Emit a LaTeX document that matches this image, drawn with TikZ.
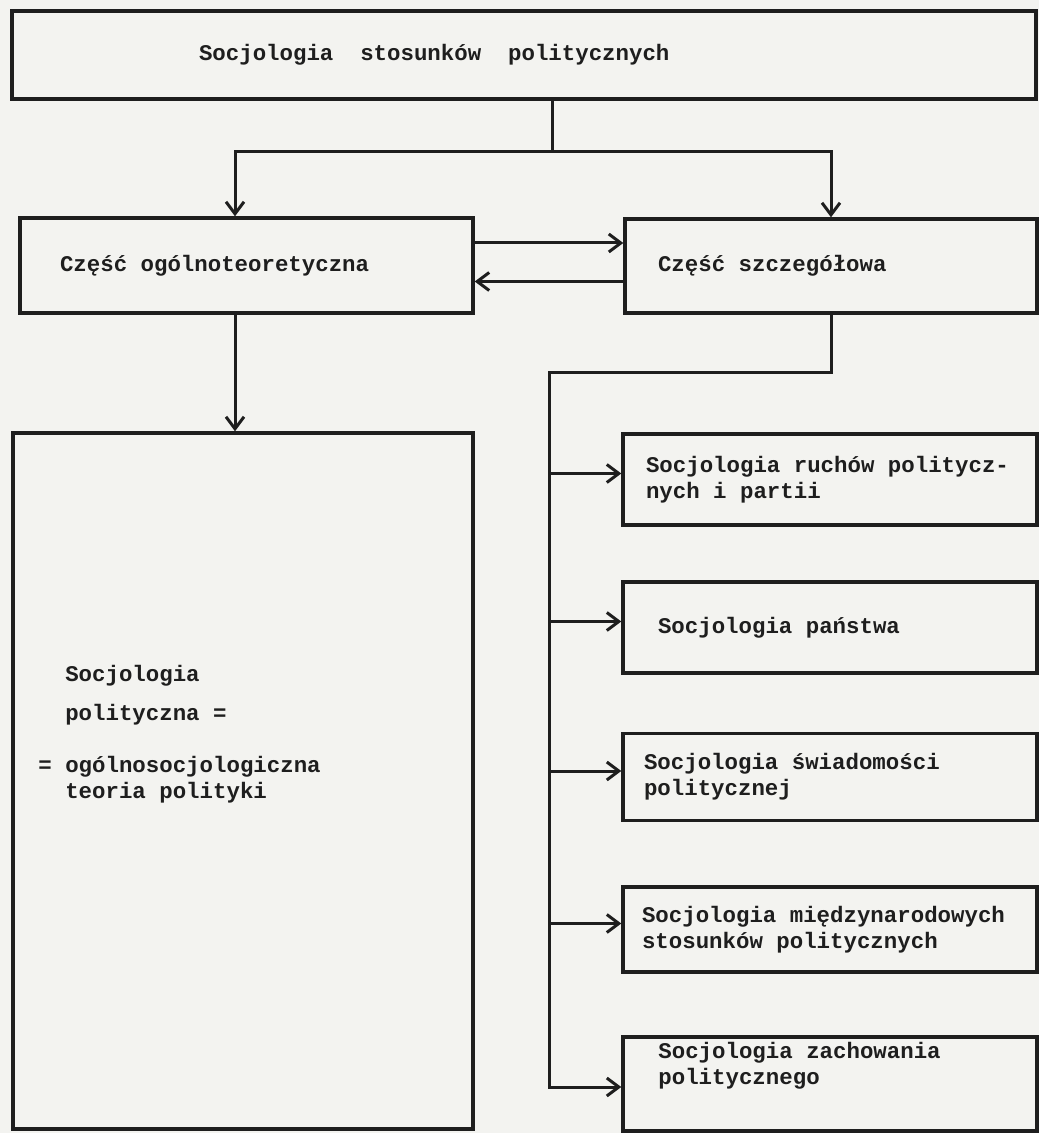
\documentclass[tikz,border=0pt]{standalone}
\usepackage{fontspec}
\setmonofont{Liberation Mono}
\usetikzlibrary{arrows.meta, positioning, calc}
\definecolor{paper}{HTML}{F3F3F0}
\definecolor{ink}{HTML}{1E1E1E}
\DeclareRobustCommand\typewr{\ttfamily\bfseries\fontsize{11.2}{13}\selectfont\spaceskip=0.6em\relax}
\tikzset{
  txt/.style={align=left, text=ink, inner sep=0pt, font=\typewr,
    execute at begin node={\spaceskip=0.6em\relax}},
  box/.style={txt, rectangle, draw=ink, line width=1.7pt, inner ysep=0pt},
  boxdim/.style n args={4}{minimum width=#1, minimum height=#2, inner xsep=#3, text width=#4},
  conn/.style={draw=ink, line width=1.5pt},
  arrow/.style={conn, -{Straight Barb[length=6pt, width=9pt]}},
}

\begin{document}
\begin{tikzpicture}[x=0.5pt, y=-0.5pt]
\fill[paper] (0,0) rectangle (1039,1133);
\useasboundingbox (0,0) rectangle (1039,1133);

% upper part
\node[box, boxdim={512pt}{44pt}{93.5pt}{325pt}] (soc) at (524,55) {Socjologia\ \ stosunków\ \ politycznych};
\node[box, boxdim={226.5pt}{47.5pt}{20pt}{186.5pt}] (ogol) at (246.5,265.5) {Część ogólnoteoretyczna};
\node[box, boxdim={206pt}{47pt}{16.5pt}{173pt}] (szcz) at (831,266) {Część szczegółowa};

% left column
\node[box, minimum width=230pt, minimum height=348pt] (teoria) at (243,781) {};
\node[txt, anchor=west] (teoriatxt) at (38,734)
  {\phantom{= }Socjologia\\[6.5pt]\phantom{= }polityczna =\\[13pt]= ogólnosocjologiczna\\\phantom{= }teoria polityki};

% right column
\node[box, boxdim={207pt}{45.5pt}{11.5pt}{184pt}] (ruchy) at (830,479.5) {Socjologia ruchów politycz-\\nych i partii};
\node[box, boxdim={207pt}{45.5pt}{17.5pt}{172pt}] (panstwo) at (830,627.5) {Socjologia państwa};
\node[box, boxdim={207pt}{43.5pt}{10.5pt}{186pt}] (swiad) at (830,777) {Socjologia świadomości\\politycznej};
\node[box, boxdim={207pt}{42.5pt}{9.5pt}{188pt}] (miedzy) at (830,929.5) {Socjologia międzynarodowych\\stosunków politycznych};
\node[box, minimum width=207pt, minimum height=47pt] (zach) at (830,1084) {};
\node[txt, anchor=west] (zachtxt) at (658,1066) {Socjologia zachowania\\politycznego};

\coordinate (split) at (552,152);
\coordinate (lx) at (235,0);
\coordinate (bus) at (549,373);

\draw[conn] (soc.south -| split) -- (split);
\draw[arrow] (split) -| (ogol.north -| lx);
\draw[arrow] (split) -| (szcz.north);
\draw[arrow] (ogol.south -| lx) -- (teoria.north -| lx);
\draw[arrow] ([yshift=11.25pt]ogol.east) -- ([yshift=11.25pt]ogol.east -| szcz.west);
\draw[arrow] ([yshift=-7.75pt]szcz.west) -- ([yshift=-7.75pt]szcz.west -| ogol.east);
\draw[arrow] (szcz.south) |- (bus) |- ([yshift=-1.5pt]zach.west);
\foreach \b in {ruchy, panstwo, swiad, miedzy}
  \draw[arrow] ([yshift=3pt]\b.west -| bus) -- ([yshift=3pt]\b.west);
\end{tikzpicture}
\end{document}
